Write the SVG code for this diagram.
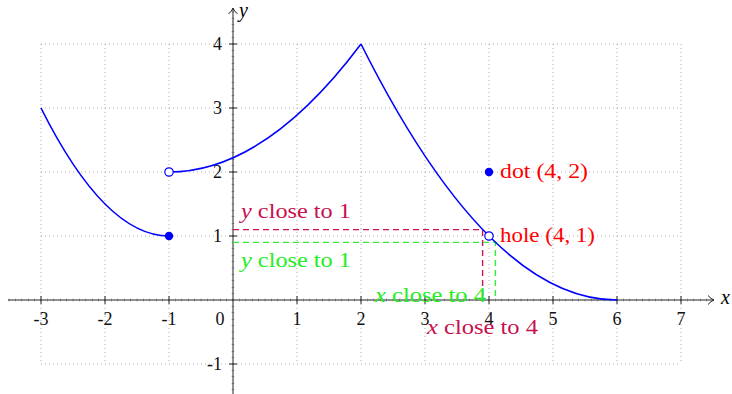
<svg xmlns="http://www.w3.org/2000/svg" width="732" height="394" viewBox="0 0 732 394">
<style>
.grid{stroke:#9a9a9a;stroke-width:0.8;stroke-dasharray:1 3;fill:none}
.axis{stroke:#222;stroke-width:1;fill:none}
.minor{stroke:#777;stroke-width:3;stroke-dasharray:0.5 5.9;fill:none}
.tick{stroke:#222;stroke-width:1}
.curve{stroke:#0000ff;stroke-width:1.6;fill:none}
.num{font-family:"Liberation Serif","DejaVu Serif",serif;font-size:18px;fill:#111}
.lab{font-family:"Liberation Serif","DejaVu Serif",serif;font-size:20px}
.it{font-style:italic}
.pur{fill:#c8104f}
.grn{fill:#22ee22}
.red{fill:#ff0000}
.dashp{stroke:#d0105a;stroke-width:1.4;stroke-dasharray:6 4;fill:none}
.dashg{stroke:#33ee33;stroke-width:1.4;stroke-dasharray:6 4;fill:none}
</style>
<defs>
<marker id="to" markerWidth="12" markerHeight="12" refX="8" refY="6" orient="auto" markerUnits="userSpaceOnUse">
<path d="M2,1.5 Q5,5 8,6 Q5,7 2,10.5" fill="none" stroke="#222" stroke-width="1"/>
</marker>
</defs>
<g id="grid">
<path class="grid" d="M41,44V364M105,44V364M169,44V364M297,44V364M361,44V364M425,44V364M489,44V364M553,44V364M617,44V364M681,44V364"/>
<path class="grid" d="M41,44H681M41,108H681M41,172H681M41,236H681M41,364H681"/>
</g>
<g id="axes">
<path class="minor" d="M8.75,300H707.25"/>
<path class="minor" d="M233,389.85V11.6"/>
<path class="axis" d="M8,300H714" marker-end="url(#to)"/>
<path class="axis" d="M233,394V8" marker-end="url(#to)"/>
<path class="tick" d="M41,296V304M105,296V304M169,296V304M297,296V304M361,296V304M425,296V304M489,296V304M553,296V304M617,296V304M681,296V304"/>
<path class="tick" d="M229,44H237M229,108H237M229,172H237M229,236H237M229,364H237"/>
<text class="lab it" x="721" y="304" font-size="18">x</text>
<text class="lab it" x="239" y="17" font-size="18">y</text>
<g class="num" text-anchor="middle">
<text x="41" y="325">-3</text>
<text x="105" y="325">-2</text>
<text x="169" y="325">-1</text>
<text x="220" y="325">0</text>
<text x="297" y="325">1</text>
<text x="361" y="325">2</text>
<text x="425" y="325">3</text>
<text x="489" y="325">4</text>
<text x="553" y="325">5</text>
<text x="617" y="325">6</text>
<text x="681" y="325">7</text>
</g>
<g class="num" text-anchor="end">
<text x="222" y="50">4</text>
<text x="222" y="114">3</text>
<text x="222" y="178">2</text>
<text x="222" y="242">1</text>
<text x="222" y="370">-1</text>
</g>
</g>
<g id="connectors">
<path class="dashp" d="M233,229.6H482.6V300"/>
<path class="dashg" d="M233,242.4H495.4V300"/>
</g>
<g id="piece-left">
<path class="curve" d="M41,108Q105,236 169,236"/>
<circle cx="169" cy="236" r="4.2" fill="#0000ff"/>
</g>
<g id="piece-middle">
<path class="curve" d="M169,172Q265,172 361,44"/>
<circle cx="169" cy="172" r="4.2" fill="#ffffff" stroke="#0000ff" stroke-width="1.2"/>
</g>
<g id="piece-right">
<path class="curve" d="M361,44Q489,300 617,300"/>
<circle cx="489" cy="236" r="4.2" fill="#ffffff" stroke="#0000ff" stroke-width="1.2"/>
</g>
<g id="dot">
<circle cx="489" cy="172" r="4.2" fill="#0000ff"/>
<text class="lab red" x="500" y="178" textLength="88" lengthAdjust="spacingAndGlyphs">dot (4, 2)</text>
</g>
<g id="hole">
<text class="lab red" x="500" y="242" textLength="95" lengthAdjust="spacingAndGlyphs">hole (4, 1)</text>
</g>
<g id="labels">
<text class="lab pur" x="241" y="218" textLength="110" lengthAdjust="spacingAndGlyphs"><tspan class="it">y</tspan> close to 1</text>
<text class="lab grn" x="241" y="267" textLength="110" lengthAdjust="spacingAndGlyphs"><tspan class="it">y</tspan> close to 1</text>
<text class="lab grn" x="375" y="302" textLength="111" lengthAdjust="spacingAndGlyphs"><tspan class="it">x</tspan> close to 4</text>
<text class="lab pur" x="427" y="334" textLength="111" lengthAdjust="spacingAndGlyphs"><tspan class="it">x</tspan> close to 4</text>
</g>
</svg>
